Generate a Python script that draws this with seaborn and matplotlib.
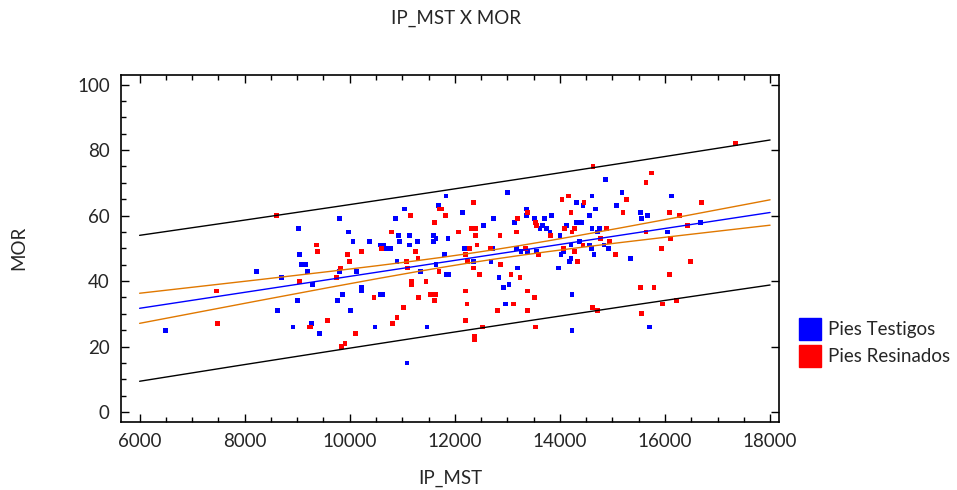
import numpy as np
import pandas as pd
import seaborn as sns
import matplotlib.pyplot as plt
from matplotlib.lines import Line2D
from matplotlib.ticker import MultipleLocator

# Pies Testigos
testigos_x = [6500, 8630, 9020, 9040, 8230, 8700, 9010, 8920, 9800, 11040, 10870, 11690,
              9980, 10920, 11140, 11590, 11640, 11600, 10060, 10380, 10940, 11290, 10590,
              10650, 11140, 10680, 10780, 9080, 9160, 9190, 10900, 11640, 9800, 10130, 11350,
              9290, 9860, 10230, 10230, 10580, 10630, 9760, 10020, 9270, 9420, 10480, 11470,
              11090, 11830, 13010, 14320, 12140, 13370, 13370, 12740, 13130, 13510, 13700,
              13840, 13670, 12550, 13620, 13740, 14130, 14320, 13810, 14000, 11870, 12190,
              12720, 13170, 14210, 14370, 11810, 13260, 13390, 13560, 14020, 14070, 14210,
              14180, 12350, 12690, 13190, 13970, 11840, 11880, 12840, 13030, 12920, 14230,
              12970, 14230, 14870, 14610, 15180, 16130, 14440, 15070, 14680, 15530, 14560,
              15560, 15660, 14410, 16680, 14610, 14750, 14710, 16050, 14570, 14840, 14600,
              14920, 14650, 15350, 15700]
testigos_y = [25, 31, 56, 48, 43, 41, 34, 26, 59, 62, 59, 63,
              55, 54, 54, 54, 53, 52, 52, 52, 52, 52, 51,
              51, 51, 50, 50, 45, 45, 43, 46, 45, 43, 43, 43,
              39, 36, 38, 37, 36, 36, 34, 31, 27, 24, 26, 26,
              15, 66, 67, 64, 61, 62, 60, 59, 58, 59, 59,
              60, 57, 57, 56, 56, 57, 58, 55, 54, 53, 50,
              50, 50, 51, 52, 48, 49, 49, 49, 48, 49, 47,
              46, 46, 46, 44, 44, 42, 42, 41, 39, 38, 36,
              33, 25, 71, 66, 67, 66, 63, 63, 62, 61, 60,
              59, 60, 58, 58, 56, 56, 55, 55, 51, 51, 50,
              50, 48, 47, 26]

# Pies Resinados
resinados_x = [8600, 7460, 9050, 7480, 11150, 11700, 11620, 10800, 9360, 10610, 9390, 9950,
               10230, 11250, 10000, 11300, 11080, 9820, 11100, 11700, 9740, 11180, 11180,
               11450, 10460, 11530, 11630, 11310, 11620, 11030, 10900, 10810, 9580, 9240,
               9260, 10110, 9910, 9850, 12360, 14040, 14170, 11740, 11820, 14210, 13390,
               13200, 13530, 13560, 12310, 12390, 14080, 14270, 14230, 12070, 13170, 13820,
               12400, 12860, 12420, 12280, 12680, 13340, 14070, 12210, 13590, 14280, 14330,
               12240, 12870, 12360, 12470, 13070, 13240, 12210, 13380, 13520, 12230, 13110,
               12810, 13380, 12200, 12530, 13530, 12370, 12370, 14630, 17340, 15740, 15640,
               15260, 14460, 16700, 15200, 16080, 16270, 16430, 14880, 15640, 14770, 16100,
               14950, 14440, 15940, 15060, 16480, 16080, 15530, 15790, 15960, 16220, 14620,
               14710, 15550]
resinados_y = [60, 37, 40, 27, 60, 62, 58, 55, 51, 50, 49, 48,
               49, 49, 46, 47, 46, 44, 44, 43, 41, 40, 39,
               40, 35, 36, 36, 35, 34, 32, 29, 27, 28, 26,
               26, 24, 21, 20, 64, 65, 66, 62, 60, 61, 61,
               59, 58, 57, 56, 56, 56, 56, 55, 55, 55, 54,
               54, 54, 51, 50, 50, 50, 50, 48, 48, 49, 46,
               46, 45, 44, 42, 42, 41, 37, 37, 35, 33, 33,
               31, 31, 28, 26, 26, 23, 22, 75, 82, 73, 70,
               65, 64, 64, 61, 61, 60, 57, 56, 55, 53, 53,
               52, 51, 50, 48, 46, 42, 38, 38, 33, 34, 32,
               31, 30]

grupos = ['Pies Testigos', 'Pies Resinados']
colores = ['#0000ff', '#ff0000']

datos = pd.DataFrame({
    'IP_MST': testigos_x + resinados_x,
    'MOR': testigos_y + resinados_y,
    'grupo': [grupos[0]] * len(testigos_x) + [grupos[1]] * len(resinados_x),
})

# ajuste lineal con bandas de confianza y prediccion (95%)
x = datos['IP_MST'].to_numpy(float)
y = datos['MOR'].to_numpy(float)
n = len(x)
b, a = np.polyfit(x, y, 1)
s = np.sqrt(((y - (a + b * x)) ** 2).sum() / (n - 2))
sxx = ((x - x.mean()) ** 2).sum()
t = 1.97
xs = np.linspace(6000, 18000, 200)
ys = a + b * xs
se_fit = s * np.sqrt(1 / n + (xs - x.mean()) ** 2 / sxx)
se_pred = s * np.sqrt(1 + 1 / n + (xs - x.mean()) ** 2 / sxx)

sns.set_style('ticks')
plt.rcParams['font.family'] = ['Lato', 'DejaVu Sans']

fig = plt.figure(figsize=(9.57, 4.9), dpi=100)
ax = fig.add_axes([0.1264, 0.1388, 0.6876, 0.7088])

ax.plot(xs, ys + t * se_pred, color='black', lw=1)
ax.plot(xs, ys - t * se_pred, color='black', lw=1)
ax.plot(xs, ys + t * se_fit, color='#e07800', lw=1)
ax.plot(xs, ys - t * se_fit, color='#e07800', lw=1)
ax.plot(xs, ys, color='#0000ff', lw=1)

sns.scatterplot(data=datos, x='IP_MST', y='MOR', hue='grupo', hue_order=grupos,
                palette=colores, marker='s', s=12, linewidth=0, legend=False, ax=ax)

ax.set_xlim(5645, 18170)
ax.set_ylim(-3, 103)
ax.xaxis.set_major_locator(MultipleLocator(2000))
ax.xaxis.set_minor_locator(MultipleLocator(500))
ax.yaxis.set_major_locator(MultipleLocator(20))
ax.yaxis.set_minor_locator(MultipleLocator(5))
ax.tick_params(which='both', direction='in', top=True, labelsize=13.5, color='black')
ax.tick_params(which='major', length=6, width=1, right=True)
ax.tick_params(which='minor', length=3.5, width=1, right=False)
ax.tick_params(axis='x', pad=8)
ax.tick_params(axis='y', pad=8)
for sp in ax.spines.values():
    sp.set_linewidth(1.2)
    sp.set_color('black')

ax.set_xlabel('IP_MST', fontsize=13.5, labelpad=14)
ax.set_ylabel('MOR', fontsize=13.5, labelpad=36)
fig.text(0.477, 0.962, 'IP_MST X MOR', ha='center', va='center', fontsize=13.5)

handles = [Line2D([], [], marker='s', ls='none', markersize=16, color=c) for c in colores]
fig.legend(handles, grupos, loc='upper left', bbox_to_anchor=(0.829, 0.36), frameon=False,
           fontsize=13.5, handlelength=1.0, handletextpad=0.45, labelspacing=0.55,
           borderaxespad=0)

fig.savefig('out.png', dpi=100)
